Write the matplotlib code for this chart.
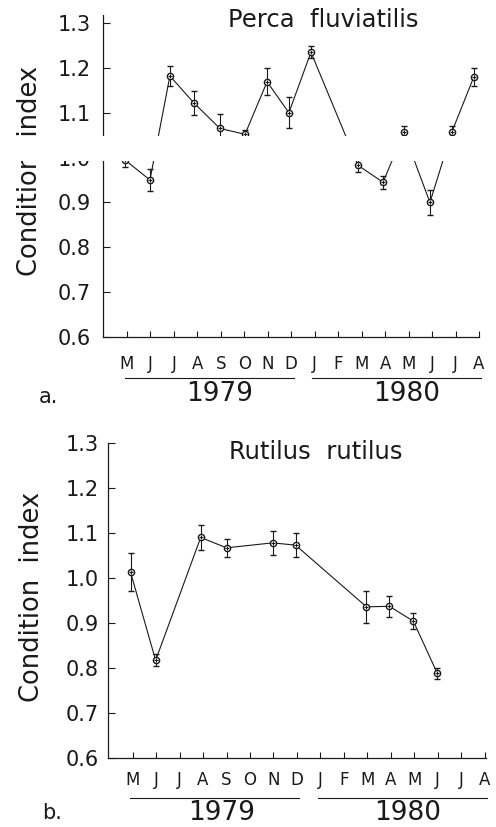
#!/usr/bin/env python3
"""
Condition index of perch and roach, May 1979 - August 1980
"""
import numpy as np
import matplotlib
matplotlib.use("Agg")
import matplotlib.pyplot as plt
import matplotlib.transforms as mtransforms
from matplotlib.patches import Rectangle

# month axis: tick 0 = May 1979 ... tick 15 = Aug 1980
months = ["M", "J", "J", "A", "S", "O", "N", "D",
          "J", "F", "M", "A", "M", "J", "J", "A"]
years = ["1979", "1980"]
year_spans = [(0, 7), (8, 15)]

# a. Perca fluviatilis (sampling date in months, mean, error)
perca_x = [-0.09, 0.98, 1.83, 2.85, 3.96, 5.03, 5.97, 6.90, 7.84,
           9.84, 10.91, 11.80, 12.91, 13.85, 14.78]
perca_y = [0.995, 0.950, 1.182, 1.122, 1.065, 1.052, 1.169, 1.100, 1.235,
           0.983, 0.945, 1.056, 0.900, 1.058, 1.180]
perca_err = [0.015, 0.025, 0.022, 0.027, 0.032, 0.010, 0.030, 0.035, 0.013,
             0.015, 0.014, 0.015, 0.027, 0.013, 0.020]

# b. Rutilus rutilus
rutilus_x = [-0.09, 0.98, 2.90, 4.00, 5.96, 6.94, 9.96, 10.94, 11.96, 12.98]
rutilus_y = [1.013, 0.817, 1.090, 1.067, 1.078, 1.073, 0.936, 0.937, 0.904,
             0.788]
rutilus_err = [0.042, 0.013, 0.028, 0.020, 0.027, 0.027, 0.035, 0.023, 0.018,
               0.013]

yticks = [0.6, 0.7, 0.8, 0.9, 1.0, 1.1, 1.2, 1.3]
INK = "#1a1a1a"


def draw_panel(ax, x, y, err, title, title_pos, ytop, xlim, tick_pad,
               month_pad, year_pos, label_pos):
    """
    One condition index panel
    """
    ax.errorbar(x, y, yerr=err, color=INK, lw=0.8, elinewidth=0.8,
                capsize=2.5, capthick=0.8, marker="o", ms=4.5, mfc="white",
                mec=INK, mew=1.0, zorder=3)
    ax.plot(x, y, ls="none", marker="+", ms=3.5, mew=0.8, color=INK,
            zorder=4)

    ax.set_ylim(0.6, ytop)
    ax.set_xlim(*xlim)
    ax.set_yticks(yticks)
    ax.set_yticklabels(["%.1f" % v for v in yticks], fontsize=15)
    ax.set_xticks(np.arange(len(months)))
    ax.set_xticklabels(months, fontsize=12)

    for side in ("top", "right"):
        ax.spines[side].set_visible(False)
    for side in ("left", "bottom"):
        ax.spines[side].set_linewidth(0.9)
        ax.spines[side].set_color(INK)
    ax.tick_params(axis="y", direction="in", length=5, width=0.8,
                   pad=tick_pad, colors=INK)
    ax.tick_params(axis="x", direction="in", length=4.5, width=0.8,
                   pad=month_pad, colors=INK)
    ax.set_ylabel("Condition  index", fontsize=18.5, color=INK)
    ax.yaxis.set_label_coords(*label_pos)

    ax.text(title_pos[0], title_pos[1], title, transform=ax.transAxes,
            ha="center", va="center", fontsize=17.5, color=INK)

    # year underlines and labels below the month names
    trans = mtransforms.blended_transform_factory(ax.transData, ax.transAxes)
    for name, (start, end), xc in zip(years, year_spans, year_pos):
        ax.plot([start - 0.1, end + 0.1], [-0.127, -0.127], color=INK,
                lw=0.8, transform=trans, clip_on=False)
        ax.text(xc, -0.176, name, transform=trans, ha="center",
                va="center", fontsize=19, color=INK)


fig = plt.figure(figsize=(4.96, 8.27), dpi=100)

ax_a = fig.add_axes([0.2077, 0.5925, 0.758, 0.3894])
draw_panel(ax_a, perca_x, perca_y, perca_err, "Perca  fluviatilis",
           (0.585, 0.984), 1.318, (-1.02, 15.0), 9, 13, (3.95, 11.9),
           (-0.16, 0.515))

ax_b = fig.add_axes([0.2177, 0.0834, 0.762, 0.381])
draw_panel(ax_b, rutilus_x, rutilus_y, rutilus_err, "Rutilus  rutilus",
           (0.55, 0.971), 1.3, (-1.05, 15.05), 6.5, 9, (3.8, 11.7),
           (-0.167, 0.51))

fig.text(48 / 496, 1 - 397 / 827, "a.", ha="center", va="center",
         fontsize=15, color=INK)
fig.text(52 / 496, 1 - 813 / 827, "b.", ha="center", va="center",
         fontsize=15, color=INK)

# blank strip left across the upper panel in the scanned original
fig.add_artist(Rectangle((0, 1 - 161 / 827), 1, 25 / 827,
                         transform=fig.transFigure, facecolor="white",
                         edgecolor="none", zorder=10))

fig.savefig("out.png", dpi=100)
